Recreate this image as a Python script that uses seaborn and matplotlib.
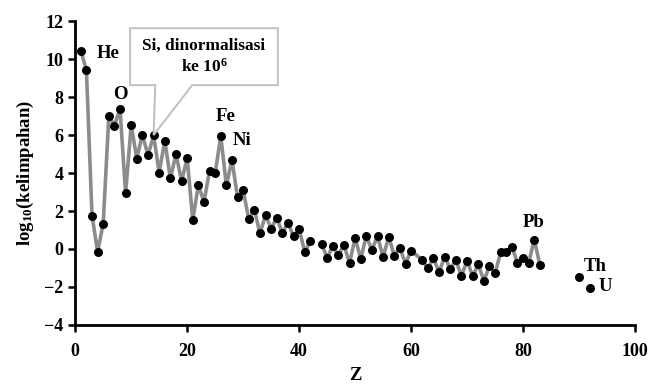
import numpy as np
import pandas as pd
import matplotlib
matplotlib.use("Agg")
import matplotlib.pyplot as plt
from matplotlib.patches import Polygon
import seaborn as sns

# atomic number Z (43 Tc and 61 Pm have no value)
z_vals = list(range(1, 43)) + list(range(44, 61)) + list(range(62, 84)) + [90, 92]
log_abund = [
    10.45, 9.43, 1.76, -0.14, 1.33, 7.00, 6.50, 7.38, 2.93, 6.54,
    4.76, 6.03, 4.93, 6.00, 4.02, 5.71, 3.72, 5.00, 3.58, 4.79,
    1.53, 3.38, 2.47, 4.13, 3.98, 5.95, 3.35, 4.69, 2.72, 3.10,
    1.58, 2.08, 0.82, 1.79, 1.07, 1.65, 0.85, 1.37, 0.67, 1.06,
    -0.16, 0.41,
    0.27, -0.46, 0.14, -0.31, 0.21, -0.74, 0.58, -0.51, 0.68, -0.05,
    0.67, -0.43, 0.65, -0.35, 0.06, -0.78, -0.08,
    -0.59, -1.01, -0.48, -1.22, -0.40, -1.05, -0.60, -1.42, -0.61, -1.44,
    -0.81, -1.68, -0.88, -1.29, -0.17, -0.18, 0.13, -0.73, -0.47, -0.74,
    0.50, -0.84,
    -1.47, -2.05,
]
# labelled elements: (name, x, y, align)
labels = [("He", 3.8, 10.3, "left"), ("O", 8.0, 8.15, "center"),
          ("Fe", 26.8, 7.0, "center"), ("Ni", 28.2, 5.7, "left"),
          ("Pb", 81.8, 1.37, "center"), ("Th", 90.8, -0.9, "left"),
          ("U", 93.5, -2.0, "left")]

df = pd.DataFrame({"Z": z_vals, "val": log_abund})
df["seg"] = np.where(df["Z"] < 43, 1, np.where(df["Z"] < 84, 2, 3))

sns.set_style("ticks")
plt.rcParams["font.family"] = ["Liberation Serif", "DejaVu Serif"]
plt.rcParams["font.weight"] = "bold"
plt.rcParams["mathtext.fontset"] = "custom"
plt.rcParams["mathtext.rm"] = "Liberation Serif:bold"
plt.rcParams["mathtext.default"] = "rm"
for key in ["text.color", "axes.labelcolor", "xtick.color", "ytick.color"]:
    plt.rcParams[key] = "black"

fig = plt.figure(figsize=(6.54, 3.85), dpi=100)
ax = fig.add_axes([0.115, 0.156, 0.856, 0.789])

sns.lineplot(data=df[df["seg"] < 3], x="Z", y="val", units="seg", estimator=None,
             color="#8c8c8c", linewidth=2.6, ax=ax, zorder=2)
sns.scatterplot(data=df, x="Z", y="val", color="black", s=42, edgecolor="black",
                linewidth=0, ax=ax, zorder=3)

for name, x, y, ha in labels:
    ax.text(x, y, name, ha=ha, va="center", fontsize=13.5, fontweight="bold")

# callout box pointing at Si
si = df.loc[df["Z"] == 14, "val"].iloc[0]
callout = Polygon([(9.8, 11.63), (36.2, 11.63), (36.2, 8.63), (20.9, 8.63),
                   (14.0, si), (14.3, 8.63), (9.8, 8.63)], closed=True,
                  facecolor="white", edgecolor="#c0c0c0", linewidth=1.4, zorder=4)
ax.add_patch(callout)
ax.text(23.0, 10.13, "Si, dinormalisasi\nke 10$^6$", ha="center", va="center",
        fontsize=12.5, fontweight="bold", linespacing=1.3, zorder=5)

ax.set_xlim(0, 100)
ax.set_ylim(-4, 12)
ax.set_xticks(range(0, 101, 20))
ax.set_yticks(range(-4, 13, 2))
ax.set_xlabel("Z", fontsize=13.5, fontweight="bold", labelpad=5)
ax.set_ylabel("log$_{10}$(kelimpahan)", fontsize=13.5, fontweight="bold", labelpad=6)
ax.tick_params(labelsize=13, width=1.8, length=5, direction="out")
ax.tick_params(axis="x", pad=8)
for lab in ax.get_xticklabels() + ax.get_yticklabels():
    lab.set_fontweight("bold")
sns.despine(ax=ax)
for sp in ["left", "bottom"]:
    ax.spines[sp].set_linewidth(2)
    ax.spines[sp].set_color("black")

fig.savefig("out.png", dpi=100)
